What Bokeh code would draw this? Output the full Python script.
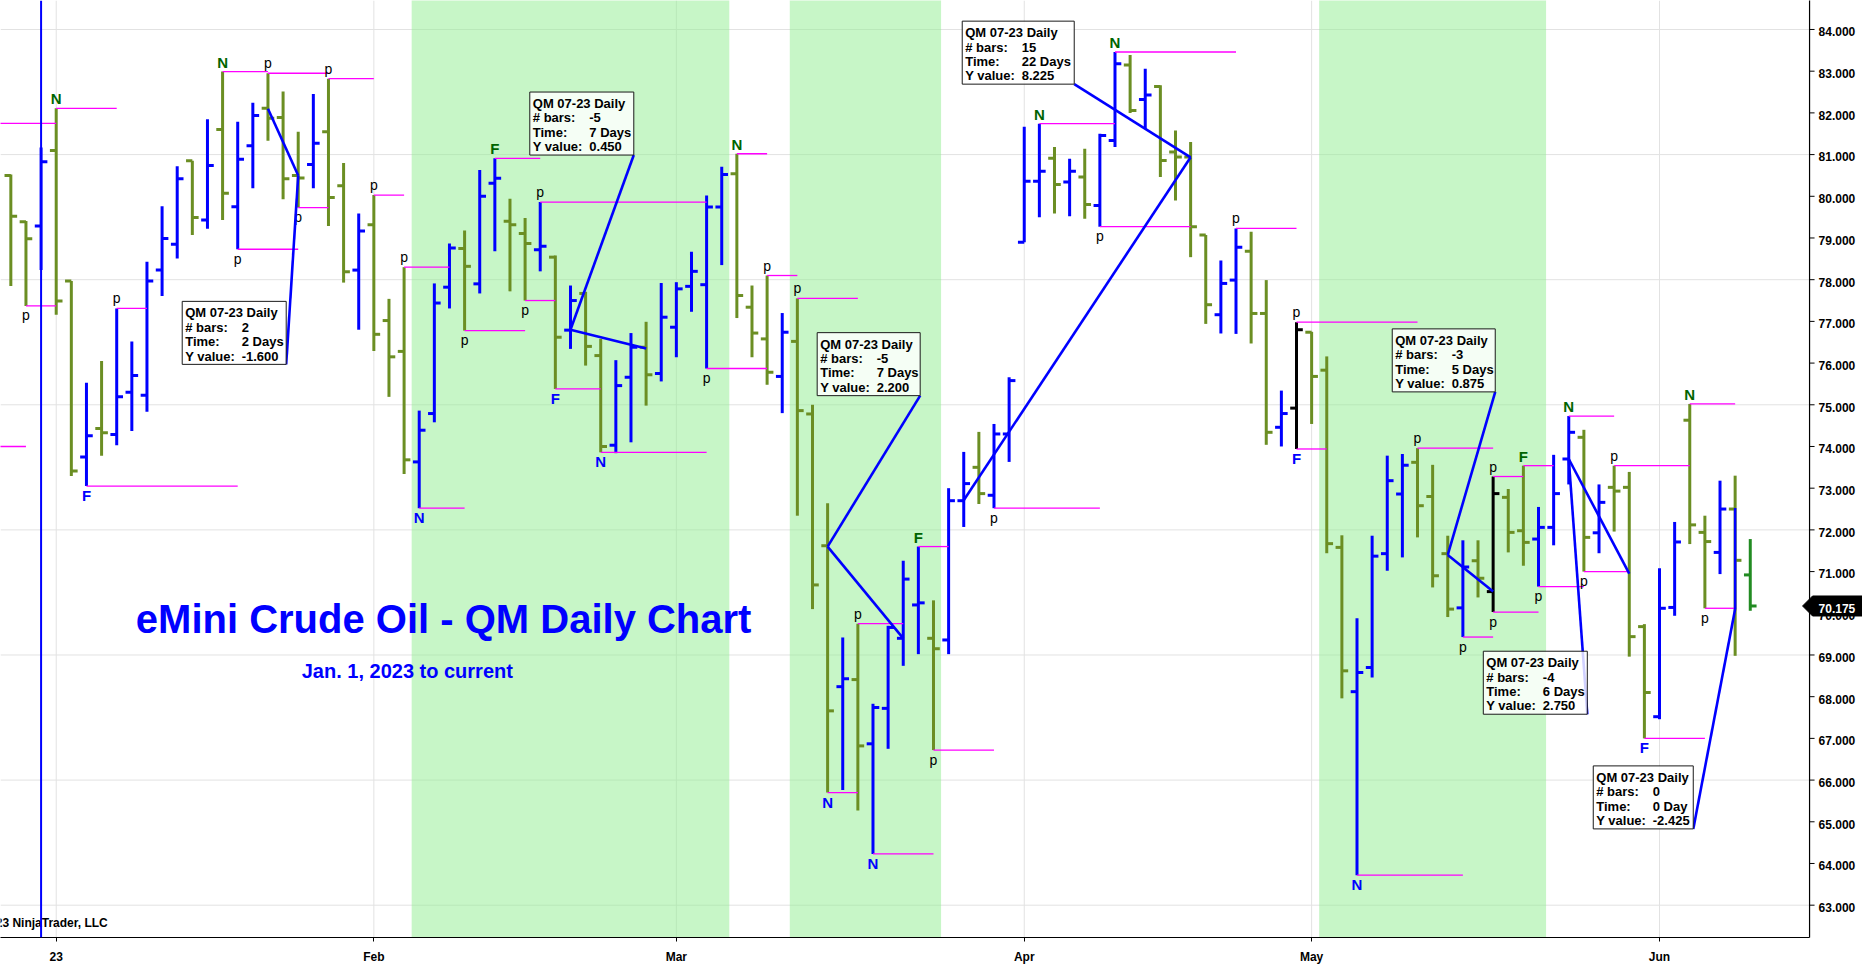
from bokeh.plotting import figure
from bokeh.models import Range1d, FixedTicker, Span
from bokeh.embed import file_html
from bokeh.resources import INLINE
from bokeh.core.properties import value

# ---------------- data ----------------
# trading-day number (0 = first January 2023 session)
bar_idx = list(range(-3, 113))
month_tick_bars = [0, 21, 41, 64, 83, 106]
month_tick_labels = ["23", "Feb", "Mar", "Apr", "May", "Jun"]
price_ticks = list(range(63, 85))
price_grid = list(range(63, 85, 3))

opens = [
    80.50, 79.39, 79.29,
    81.10, 77.97, 73.75, 74.43, 74.29, 75.30, 75.23, 78.23, 78.85, 80.85,
    79.43, 81.60, 79.75, 81.21, 82.11, 81.89, 80.50, 80.76, 81.55, 80.25,
    78.23, 79.32, 77.02, 76.28, 73.63, 74.79, 77.82, 78.75, 77.90, 80.31,
    79.40, 79.11, 78.72, 78.54, 76.79, 77.67, 76.18, 74.03, 75.66, 76.38,
    75.75, 76.86, 77.84, 77.88, 79.74, 80.54, 77.34, 76.58, 75.68, 76.52,
    74.78, 71.62, 68.24, 68.41, 66.87, 67.72, 69.40, 70.20, 69.40, 69.36,
    72.70, 73.50, 72.83, 74.30, 78.90, 80.36, 80.91, 80.34, 80.46, 79.78,
    81.34, 83.15, 82.32, 82.63, 81.06, 80.94, 79.07, 77.16, 77.99, 78.68,
    77.19, 74.46, 74.92, 76.74, 75.83, 71.58, 68.12, 68.70, 71.43, 72.86,
    73.62, 72.80, 71.43, 70.13, 71.26, 70.52, 72.78, 71.98, 71.78, 72.06,
    73.70, 74.22, 71.93, 73.02, 73.02, 69.68, 67.52, 70.14, 74.63, 71.94,
    71.46, 72.50, 70.92,
]
highs = [
    80.52, 79.41, 81.17,
    82.11, 77.97, 75.53, 76.05, 77.31, 76.52, 78.43, 79.76, 80.72, 80.85,
    81.85, 82.99, 81.79, 82.24, 82.95, 82.51, 81.55, 82.45, 82.82, 80.80,
    79.59, 80.03, 77.54, 78.30, 74.86, 77.91, 78.87, 79.18, 80.63, 80.91,
    79.94, 79.48, 79.86, 78.58, 77.86, 77.71, 76.58, 76.07, 76.72, 76.99,
    77.92, 77.94, 78.67, 80.02, 80.71, 81.02, 77.86, 78.10, 77.20, 77.55,
    75.00, 72.64, 69.42, 69.75, 67.83, 69.70, 71.26, 71.60, 70.31, 73.00,
    73.87, 74.35, 74.54, 75.66, 81.67, 81.74, 81.18, 80.90, 81.14, 81.50,
    83.46, 83.39, 83.06, 82.66, 81.58, 81.30, 79.07, 78.46, 79.23, 79.15,
    77.99, 75.34, 76.98, 76.75, 76.16, 71.87, 69.88, 71.86, 73.78, 73.82,
    73.96, 73.56, 71.86, 71.75, 71.75, 73.28, 72.98, 73.54, 72.55, 73.80,
    74.73, 74.40, 73.09, 73.54, 73.39, 69.74, 71.08, 72.19, 75.02, 72.34,
    73.18, 73.30, 71.78,
]
lows = [
    77.85, 77.37, 78.23,
    77.16, 73.29, 73.05, 73.78, 74.03, 74.37, 74.83, 77.61, 78.51, 79.07,
    79.22, 79.43, 78.73, 80.19, 81.33, 79.93, 79.73, 80.19, 79.29, 77.93,
    76.80, 76.29, 75.19, 73.34, 72.52, 74.58, 77.31, 76.78, 77.67, 78.68,
    77.72, 77.50, 78.20, 75.38, 76.34, 75.94, 73.86, 73.84, 74.10, 74.98,
    75.56, 76.14, 77.23, 75.87, 78.35, 77.08, 76.14, 75.48, 74.80, 72.34,
    70.10, 65.70, 65.76, 65.27, 64.23, 66.75, 68.74, 69.02, 66.72, 69.02,
    72.07, 72.62, 72.52, 73.63, 78.90, 79.50, 79.59, 79.52, 79.46, 79.27,
    81.18, 82.00, 81.62, 80.46, 79.90, 78.54, 76.94, 76.71, 76.70, 76.47,
    74.04, 74.00, 73.94, 74.54, 71.44, 67.96, 63.72, 68.46, 71.02, 71.34,
    71.82, 70.62, 69.91, 69.43, 70.38, 70.03, 71.46, 71.14, 70.64, 71.63,
    73.09, 71.00, 71.44, 71.96, 68.96, 67.00, 67.46, 69.94, 71.66, 70.12,
    70.94, 68.98, 70.06,
]
closes = [
    79.52, 78.98, 80.83,
    77.49, 73.41, 74.26, 74.33, 75.19, 75.70, 77.97, 78.99, 80.42, 79.49,
    80.74, 80.07, 80.89, 81.94, 81.87, 80.42, 80.44, 81.27, 79.97, 78.19,
    79.17, 76.69, 76.15, 73.68, 74.39, 77.44, 78.76, 78.32, 80.00, 80.43,
    79.32, 78.87, 78.80, 76.62, 77.50, 76.40, 74.00, 75.46, 76.38, 75.72,
    77.10, 77.78, 78.20, 79.74, 80.52, 77.62, 76.72, 75.78, 76.74, 74.86,
    70.68, 67.66, 68.43, 66.82, 67.74, 69.66, 70.82, 70.25, 69.15, 72.70,
    73.11, 72.87, 74.30, 75.58, 80.36, 80.60, 80.28, 80.60, 79.80, 81.46,
    83.18, 82.06, 82.43, 80.86, 80.94, 79.27, 77.40, 77.91, 78.78, 77.19,
    74.34, 74.79, 76.80, 75.68, 71.67, 68.62, 68.58, 71.37, 73.18, 73.55,
    72.58, 70.90, 70.10, 71.11, 70.84, 72.87, 71.94, 71.70, 72.06, 72.87,
    74.34, 71.82, 72.66, 72.93, 69.44, 68.10, 70.12, 71.71, 72.12, 71.72,
    72.50, 71.27, 70.175,
]
outside_bars = [82, 95]      # drawn black
last_price = 70.175

# swing markers (above highs / below lows) and the bar where their level line ends
piv_hi_bar = [0, 4, 11, 14, 18, 21, 23, 29, 32, 45, 47, 49, 53, 57, 65, 70, 78, 82, 90, 95, 97, 100, 103, 108]
piv_hi_tag = ["N", "p", "N", "p", "p", "p", "p", "F", "p", "N", "p", "p", "p", "F", "N", "N", "p", "p", "p", "p", "F", "N", "p", "N"]
piv_hi_end = [4, 6, 14, 18, 21, 23, 26, 32, 43, 47, 49, 53, 56, 59, 70, 78, 82, 90, 95, 97, 99, 103, 108, 111]
piv_lo_bar = [-2, 2, 12, 16, 24, 27, 31, 33, 36, 43, 51, 54, 58, 62, 69, 82, 86, 93, 95, 98, 101, 105, 109]
piv_lo_tag = ["p", "F", "p", "p", "N", "p", "p", "F", "N", "p", "N", "N", "p", "p", "p", "F", "N", "p", "p", "p", "p", "F", "p"]
piv_lo_end = [0, 12, 16, 18, 27, 31, 33, 36, 43, 47, 53, 58, 62, 69, 75, 84, 93, 95, 98, 101, 104, 109, 111]
prior_levels = [81.75, 74.00]
prior_level_end = [0, -2]

# shaded session blocks (first and last bar)
band_first = [24, 49, 84]
band_last = [44, 58, 98]
marker_bar = -1

# ruler drawings
ruler_start_bar = [14, 39, 56, 60, 95, 104, 111]
ruler_start_val = [82.10, 76.35, 69.40, 72.71, 70.525, 70.95, 72.525]
ruler_end_bar = [16, 34, 51, 75, 92, 100, 111]
ruler_end_val = [80.50, 76.80, 71.60, 80.935, 71.40, 73.70, 70.10]
ruler_time_txt = ["2 Days", "7 Days", "7 Days", "22 Days", "5 Days", "6 Days", "0 Day"]
ruler_name = "QM 07-23 Daily"

title_txt = "eMini Crude Oil - QM Daily Chart"
subtitle_txt = "Jan. 1, 2023 to current"
copyright_txt = "\u00a9 2023 NinjaTrader, LLC"

# ---------------- layout ----------------
W, H = 1862, 967
BB = 30
X0, X1 = -3.683, 119.42
Y0, Y1 = 62.225, 84.695
X_AX = 115.92                      # position of the price scale
PXX = W / (X1 - X0)
PYY = (H - BB) / (Y1 - Y0)
FONT = value("Liberation Sans")

BLUE = "#0000FF"
OLIVE = "#6B8E23"
DKGREEN = "#006400"
MAGENTA = "#FF00FF"
GRID = "#E2E2E2"

p = figure(width=W, height=H, x_range=Range1d(X0, X1), y_range=Range1d(Y0, Y1),
           output_backend="svg", toolbar_location=None, y_axis_location=None,
           min_border_left=0, min_border_top=0, min_border_right=0, min_border_bottom=BB)
p.outline_line_color = None
p.background_fill_color = "white"
p.border_fill_color = "white"
p.grid.visible = False

# time axis
xa = p.xaxis[0]
xa.ticker = FixedTicker(ticks=month_tick_bars)
xa.major_label_overrides = {b: l for b, l in zip(month_tick_bars, month_tick_labels)}
xa.bounds = (X0, X_AX)
xa.axis_line_color = "black"
xa.axis_line_width = 1.2
xa.major_tick_in = 0
xa.major_tick_out = 4
xa.minor_tick_line_color = None
xa.major_label_text_font = "Liberation Sans"
xa.major_label_text_font_style = "bold"
xa.major_label_text_font_size = "12px"
xa.major_label_text_color = "black"
xa.major_label_standoff = 8

# grid lines (stop at the price scale)
p.segment(x0=[X0] * len(price_grid), x1=[X_AX] * len(price_grid), y0=price_grid, y1=price_grid,
          line_color=GRID, line_width=1)
p.segment(x0=month_tick_bars, x1=month_tick_bars, y0=[Y0] * 6, y1=[Y1] * 6,
          line_color=GRID, line_width=1)

# shaded blocks
p.quad(left=[a - 0.5 for a in band_first], right=[b + 0.5 for b in band_last],
       bottom=[Y0 - 1] * 3, top=[Y1 + 1] * 3, fill_color="#90EE90", fill_alpha=0.5, line_color=None)
p.add_layout(Span(location=marker_bar, dimension="height", line_color=BLUE, line_width=2))

# OHLC bars
cols = []
for k, o, c in zip(bar_idx, opens, closes):
    if k in outside_bars:
        cols.append("black")
    elif k == bar_idx[-1]:
        cols.append("#228B22")
    else:
        cols.append(BLUE if c > o else OLIVE)
TK = 6.3 / PXX
p.segment(x0=bar_idx, y0=lows, x1=bar_idx, y1=highs, line_color=cols, line_width=3)
p.segment(x0=[k - TK for k in bar_idx], y0=opens, x1=bar_idx, y1=opens, line_color=cols, line_width=3)
p.segment(x0=bar_idx, y0=closes, x1=[k + TK for k in bar_idx], y1=closes, line_color=cols, line_width=3)

# swing level lines
hmap = dict(zip(bar_idx, highs))
lmap = dict(zip(bar_idx, lows))
hi_lv = [hmap[b] for b in piv_hi_bar]
lo_lv = [lmap[b] for b in piv_lo_bar]
p.segment(x0=piv_hi_bar + piv_lo_bar + [X0 - 1] * len(prior_levels),
          x1=piv_hi_end + piv_lo_end + prior_level_end,
          y0=hi_lv + lo_lv + prior_levels, y1=hi_lv + lo_lv + prior_levels,
          line_color=MAGENTA, line_width=1.3)

# swing letters
def letters(bars, levels, tags, above):
    big_x, big_y, big_t, big_c, sm_x, sm_y, sm_t = [], [], [], [], [], [], []
    for b, lv, t in zip(bars, levels, tags):
        if t == "p":
            sm_x.append(b)
            sm_y.append(lv + (2.0 / PYY if above else -1.5 / PYY))
            sm_t.append(t)
        else:
            big_x.append(b)
            big_y.append(lv + (1.0 / PYY if above else -1.0 / PYY))
            big_t.append(t)
            big_c.append(DKGREEN if above else BLUE)
    base = "bottom" if above else "top"
    p.text(x=big_x, y=big_y, text=big_t, text_color=big_c, text_font=FONT, text_font_style="bold",
           text_font_size="15px", text_align="center", text_baseline=base)
    p.text(x=sm_x, y=sm_y, text=sm_t, text_color="black", text_font=FONT,
           text_font_size="14px", text_align="center", text_baseline=base)

letters(piv_hi_bar, hi_lv, piv_hi_tag, True)
letters(piv_lo_bar, lo_lv, piv_lo_tag, False)

# rulers with info boxes
box_x = [8.33, 31.31, 50.31, 59.90, 88.33, 94.35, 101.62]
box_y = [77.48, 82.50, 76.73, 84.20, 76.82, 69.09, 66.34]
box_w = [104, 104, 103, 112, 103, 104, 100]
BOX_H = 63
rx0, ry0, rx1, ry1 = [], [], [], []
for i in range(len(ruler_start_bar)):
    cx = box_x[i] + box_w[i] / PXX
    cy = box_y[i] - BOX_H / PYY
    rx0 += [ruler_start_bar[i], ruler_end_bar[i]]
    ry0 += [ruler_start_val[i], ruler_end_val[i]]
    rx1 += [ruler_end_bar[i], cx]
    ry1 += [ruler_end_val[i], cy]
p.segment(x0=rx0, y0=ry0, x1=rx1, y1=ry1, line_color=BLUE, line_width=2.6)

p.quad(left=box_x, right=[x + w / PXX for x, w in zip(box_x, box_w)],
       top=box_y, bottom=[y - BOX_H / PYY for y in box_y],
       fill_color="white", fill_alpha=0.82, line_color="#1a1a1a", line_width=1)

tx, ty, tt = [], [], []
line_off = [16, 30.4, 44.8, 59.2]     # baselines below the box top, px
MID13 = 0.3465 * 13                   # renderer places the alphabetic anchor at mid em-box
for i in range(len(ruler_start_bar)):
    nb = ruler_end_bar[i] - ruler_start_bar[i]
    dv = ruler_end_val[i] - ruler_start_val[i]
    labels = [ruler_name, "# bars:", "Time:", "Y value:"]
    vals = [None, str(nb), ruler_time_txt[i], f"{dv:.3f}"]
    for j in range(4):
        yy = box_y[i] - (line_off[j] - MID13) / PYY
        tx.append(box_x[i] + 3 / PXX)
        ty.append(yy)
        tt.append(labels[j])
        if vals[j] is not None:
            tx.append(box_x[i] + 59.5 / PXX)
            ty.append(yy)
            tt.append(vals[j])
p.text(x=tx, y=ty, text=tt, text_color="black", text_font=FONT, text_font_style="bold",
       text_font_size="13px", text_align="left", text_baseline="alphabetic")

# titles
p.text(x=[5.263], y=[69.343], text=[title_txt], text_color=BLUE, text_font=FONT, text_font_style="bold",
       text_font_size="40px", text_align="left", text_baseline="bottom")
p.text(x=[16.23], y=[68.343], text=[subtitle_txt], text_color=BLUE, text_font=FONT, text_font_style="bold",
       text_font_size="20px", text_align="left", text_baseline="bottom")
p.text(x=[3.41], y=[62.398], text=[copyright_txt], text_color="black", text_font=FONT, text_font_style="bold",
       text_font_size="12px", text_align="right", text_baseline="bottom")

# price scale on the right
p.segment(x0=[X_AX], x1=[X_AX], y0=[Y0 - 1], y1=[Y1 + 1], line_color="black", line_width=1.2)
p.segment(x0=[X_AX] * len(price_ticks), x1=[X_AX + 5 / PXX] * len(price_ticks),
          y0=price_ticks, y1=price_ticks, line_color="black", line_width=1)
LBL_DROP = (0.358 + 0.212) * 12 / PYY
p.text(x=[X_AX + 9 / PXX] * len(price_ticks), y=[v - LBL_DROP for v in price_ticks],
       text=[f"{v:.3f}" for v in price_ticks], text_color="black", text_font=FONT,
       text_font_style="bold", text_font_size="12px", text_align="left", text_baseline="bottom")

# last price tag
hy = 10 / PYY
p.patch(x=[X_AX - 7 / PXX, X_AX + 3 / PXX, X1 + 1, X1 + 1, X_AX + 3 / PXX],
        y=[last_price, last_price + hy, last_price + hy, last_price - hy, last_price - hy],
        fill_color="black", line_color="black")
p.text(x=[X_AX + 9 / PXX], y=[last_price - LBL_DROP], text=[f"{last_price:.3f}"], text_color="white",
       text_font=FONT, text_font_style="bold", text_font_size="12px", text_align="left",
       text_baseline="bottom")

open("out.html", "w").write(file_html(p, INLINE))
